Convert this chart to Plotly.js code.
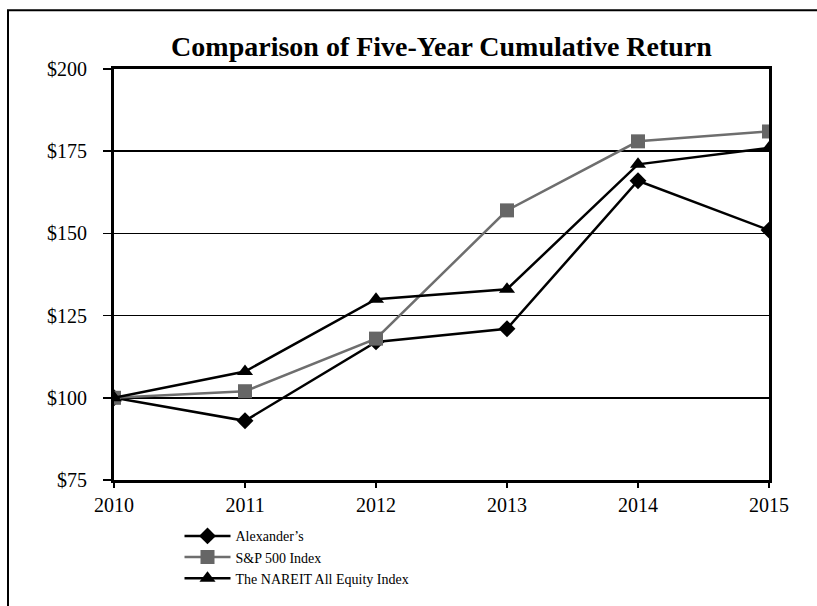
<!DOCTYPE html>
<html>
<head>
<meta charset="utf-8">
<script src="https://cdn.plot.ly/plotly-3.0.1.min.js"></script>
<style>html,body{margin:0;padding:0;background:#fff;}#chart{width:817px;height:606px;}</style>
</head>
<body>
<div id="chart"></div>
<script>
const years = ['2010', '2011', '2012', '2013', '2014', '2015'];
const alexanders = [100, 93, 117, 121, 166, 151];
const sp500 = [100, 102, 118, 157, 178, 181];
const nareit = [100, 108, 130, 133, 171, 176];
const seriesNames = ['Alexander\u2019s', 'S&amp;P 500 Index', 'The NAREIT All Equity Index'];
const yTicks = [75, 100, 125, 150, 175, 200];

const font = 'Liberation Serif, Times New Roman, serif';

const traces = [
  {x: years, y: alexanders, name: seriesNames[0], mode: 'lines+markers', type: 'scatter',
   line: {color: '#000', width: 2.5}, marker: {symbol: 'diamond', size: 13, color: '#000'}},
  {x: years, y: sp500, name: seriesNames[1], mode: 'lines+markers', type: 'scatter',
   line: {color: '#6e6e6e', width: 2.5}, marker: {symbol: 'square', size: 14, color: '#666666'}},
  {x: years, y: nareit, name: seriesNames[2], mode: 'lines+markers', type: 'scatter',
   line: {color: '#000', width: 2.5}, marker: {symbol: 'triangle-up', size: 14, color: '#000'}}
];

const layout = {
  width: 817, height: 606,
  margin: {l: 114, r: 48, t: 69, b: 117},
  paper_bgcolor: '#fff', plot_bgcolor: '#fff',
  font: {family: font, color: '#000'},
  title: {text: '<b>Comparison of Five-Year Cumulative Return</b>', font: {family: font, size: 28, color: '#000'},
          x: 0.5, xref: 'paper', xanchor: 'center', y: 1 - 46/606, yref: 'container', yanchor: 'middle'},
  xaxis: {type: 'category', range: [0, 5], showline: true, linecolor: '#000', linewidth: 3, mirror: true,
          showgrid: false, zeroline: false, ticks: 'outside', ticklen: 5, tickwidth: 1.5, tickcolor: '#000',
          tickfont: {family: font, size: 20, color: '#000'}},
  yaxis: {range: [75, 200], tickvals: yTicks, ticktext: yTicks.map(v => '$' + v),
          showline: true, linecolor: '#000', linewidth: 3, mirror: true,
          showgrid: true, gridcolor: '#000', gridwidth: 1.5, zeroline: false,
          ticks: 'outside', ticklen: 8, tickwidth: 1.5, tickcolor: '#000', ticklabelstandoff: 12,
          tickfont: {family: font, size: 20, color: '#000'}},
  showlegend: true,
  legend: {x: 0.1, xanchor: 'left', y: -0.098, yanchor: 'top', bgcolor: 'rgba(0,0,0,0)',
           font: {family: font, size: 14, color: '#000'}, itemwidth: 46, tracegroupgap: 0},
  shapes: [
    {type: 'rect', xref: 'paper', yref: 'paper', x0: (8 - 114) / 655, x1: (830 - 114) / 655,
     y0: (489 - 620) / 420, y1: (489 - 9) / 420, line: {color: '#000', width: 2}, layer: 'below'}
  ]
};

Plotly.newPlot('chart', traces, layout, {displayModeBar: false, staticPlot: true});
</script>
</body>
</html>
